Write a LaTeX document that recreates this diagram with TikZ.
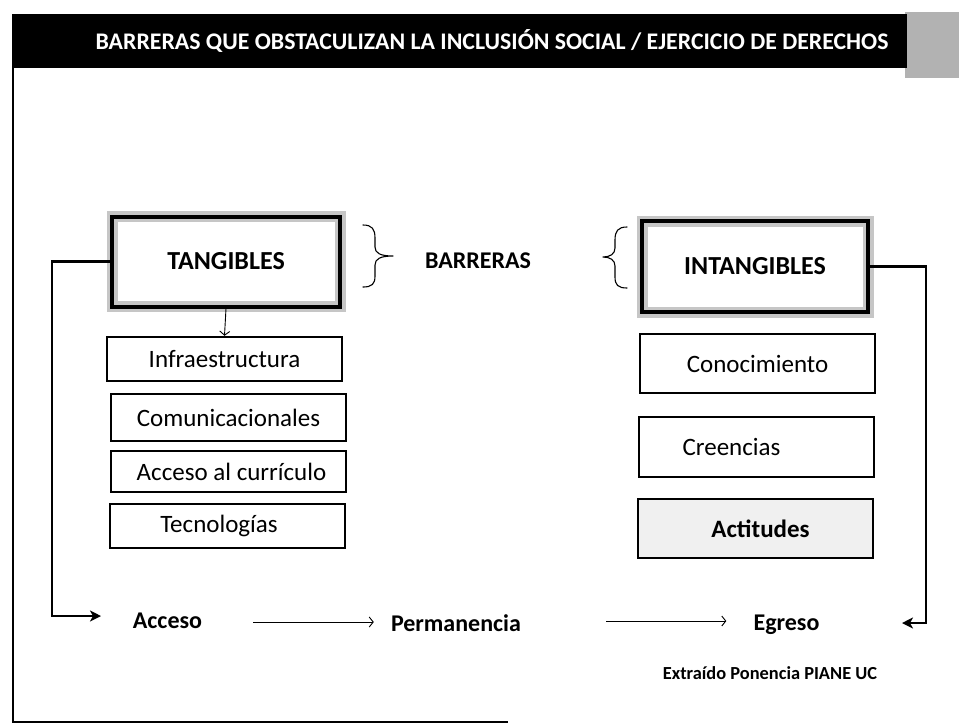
\documentclass[tikz,border=0pt]{standalone}
\usepackage{fontspec}
\setmainfont{Carlito}
\usetikzlibrary{arrows.meta}
\begin{document}
\begin{tikzpicture}[x=1pt,y=-1pt,
  mainbox/.style={draw=black, line width=4pt, minimum width=228pt, minimum height=90pt, inner sep=0pt,
     font=\fontsize{26}{30}\selectfont\bfseries,
     preaction={draw=gray!45, line width=11pt}},
  itembox/.style={draw=black, line width=2.4pt, minimum width=235pt, inner sep=0pt,
     font=\fontsize{25}{30}\selectfont},
  lbl/.style={inner sep=0pt, font=\fontsize{24}{28}\selectfont\bfseries},
  thickarrow/.style={line width=2.6pt, -{Stealth[length=11pt,width=11pt,inset=3pt]}},
  thinarrow/.style={line width=0.9pt, -{Straight Barb[length=4pt,width=10pt]}},
  bracestyle/.style={line width=1.1pt, line cap=round, line join=round}
]
\useasboundingbox (0,0) rectangle (959,724);
\fill[white] (0,0) rectangle (959,724);

% header
\fill[gray!60] (905,12) rectangle (959,78);
\fill[black] (12,14) rectangle (907,68);
\node[inner sep=0pt, text=white, font=\fontsize{23.8}{28}\selectfont\bfseries] (title) at (492,41)
  {BARRERAS QUE OBSTACULIZAN LA INCLUSIÓN SOCIAL / EJERCICIO DE DERECHOS};

% frame
\draw[line width=2.2pt] (13,66) -- (13,722) -- (508,722);

% main boxes
\node[mainbox] (tang) at (226,261.5) {TANGIBLES};
\node[mainbox, minimum width=226pt, minimum height=91pt] (intang) at (755,266.5) {INTANGIBLES};

% braces
\draw[bracestyle] (363,225) .. controls (372,225) and (375,229) .. (375,238) -- (375,247)
  .. controls (375,253) and (380,256) .. (393,256)
  .. controls (380,256) and (375,259) .. (375,265) -- (375,276)
  .. controls (375,284) and (372,287) .. (363,287);
\draw[bracestyle] (627,227) .. controls (618,227) and (615,231) .. (615,240) -- (615,248)
  .. controls (615,254) and (610,257) .. (603,257)
  .. controls (610,257) and (615,260) .. (615,266) -- (615,277)
  .. controls (615,285) and (618,288) .. (627,288);
\node[lbl] (barr) at (478,261) {BARRERAS};

% left items
\node[itembox, minimum height=44pt] (infra) at (224.5,359) {Infraestructura};
\node[itembox, minimum height=47pt] (comu) at (228.5,417.5) {Comunicacionales};
\node[itembox, minimum height=41pt] (curr) at (228.5,471.5) {\hspace*{6pt}Acceso al currículo};
\node[itembox, minimum height=44pt] (tecn) at (227.5,526) {\hspace*{-17pt}Tecnologías};

% right items
\node[itembox, minimum height=59pt] (cono) at (757.5,363.5) {Conocimiento};
\node[itembox, minimum height=60pt] (cree) at (756.5,447) {\hspace*{-50pt}Creencias};
\node[itembox, minimum height=59pt, fill=gray!12, font=\fontsize{25}{30}\selectfont\bfseries] (acti) at (755.5,528.5) {\hspace*{10pt}Actitudes};

% tangibles -> infraestructura
\draw[thinarrow] (tang.south) -- (infra.north);

% bottom row
\node[lbl] (acc) at (167.5,621) {Acceso};
\node[lbl] (perm) at (456,623) {Permanencia};
\node[lbl] (egr) at (786.5,625) {Egreso};
\node[inner sep=0pt, font=\fontsize{18.4}{22}\selectfont\bfseries] (src) at (770,673) {Extraído Ponencia PIANE UC};

\draw[thinarrow, shorten <=51pt, shorten >=17pt] (acc.east |- 0,622) -- (perm.west |- 0,622);
\draw[thinarrow, shorten <=85pt, shorten >=27pt] (perm.east |- 0,621) -- (egr.west |- 0,621);

% side connectors
\coordinate (lt) at (52,616);
\coordinate (le) at (101,616);
\draw[thickarrow] (tang.west) -| (lt) -- (le);
\coordinate (rt) at (926,623);
\coordinate (re) at (902,623);
\draw[thickarrow] (intang.east) -| (rt) -- (re);
\end{tikzpicture}
\end{document}
